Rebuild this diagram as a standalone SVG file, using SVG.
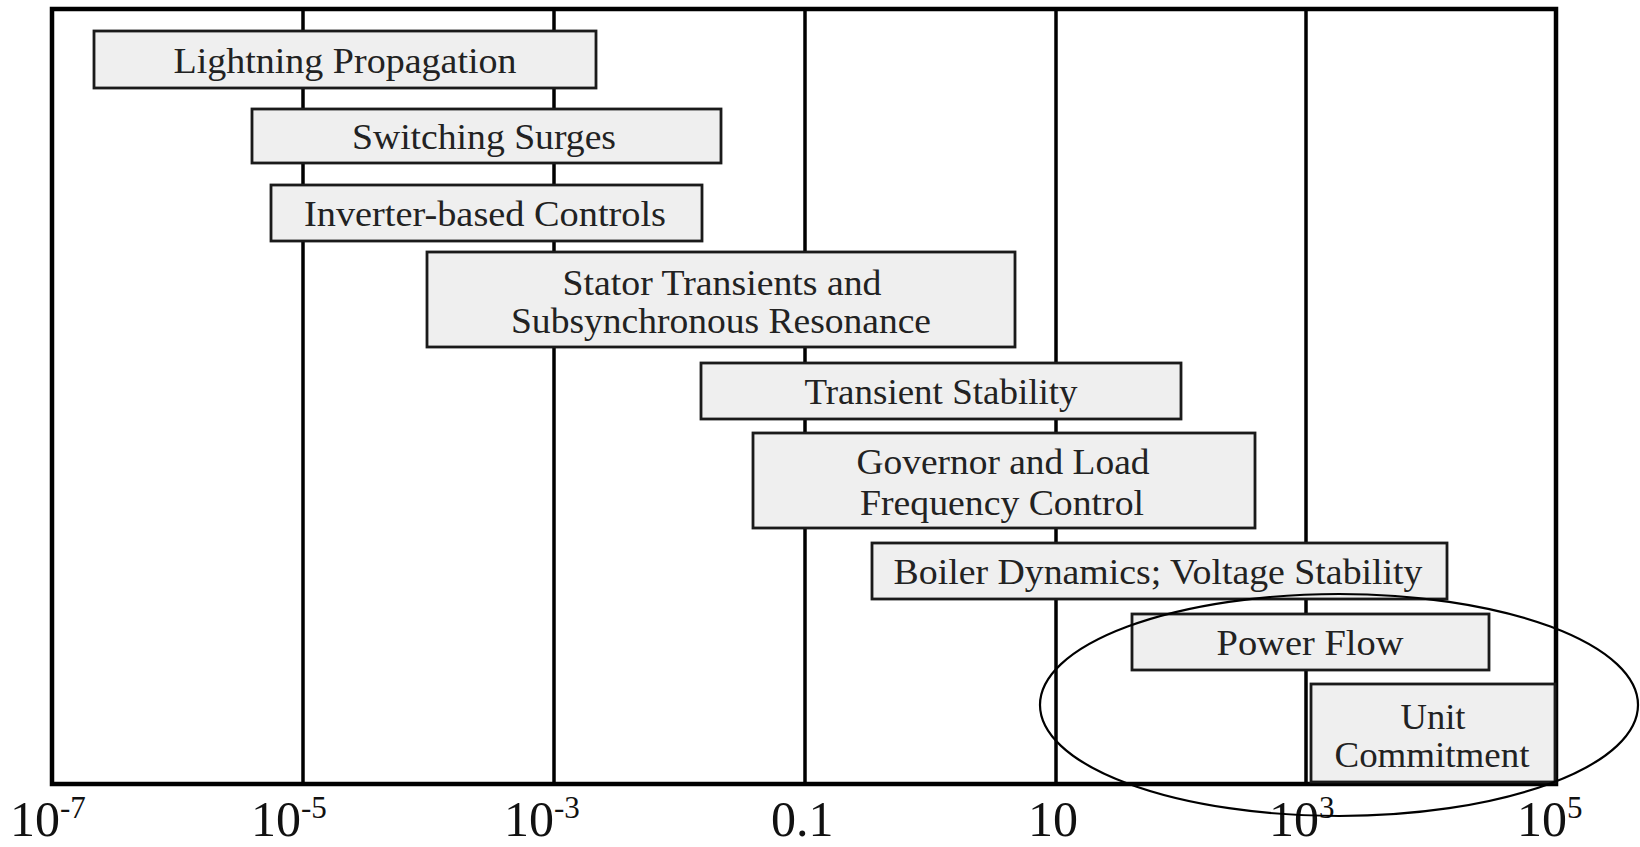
<svg xmlns="http://www.w3.org/2000/svg" width="1640" height="847" viewBox="0 0 1640 847">
<style>
.grid{stroke:#000;stroke-width:3.5;fill:none}
.frame{stroke:#000;stroke-width:4.5;fill:none}
.box{fill:#efefef;stroke:#1a1a1a;stroke-width:2.8}
.t{font-family:"Liberation Serif","Times New Roman",serif;font-size:35px;fill:#222;text-anchor:middle}
.ax{font-family:"Liberation Serif","Times New Roman",serif;font-size:50px;fill:#111}
.sup{font-size:31px}
</style>
<rect width="1640" height="847" fill="#fff"/>
<g id="connectors">
<line class="grid" x1="303" y1="9" x2="303" y2="784"/>
<line class="grid" x1="554" y1="9" x2="554" y2="784"/>
<line class="grid" x1="805" y1="9" x2="805" y2="784"/>
<line class="grid" x1="1056" y1="9" x2="1056" y2="784"/>
<line class="grid" x1="1306" y1="9" x2="1306" y2="784"/>
<rect class="frame" x="52" y="9" width="1504" height="775"/>
</g>
<g id="n-lightning"><rect class="box" x="94" y="31" width="502" height="57"/><text class="t" x="345" y="73" textLength="343" lengthAdjust="spacingAndGlyphs">Lightning Propagation</text></g>
<g id="n-switching"><rect class="box" x="252" y="109" width="469" height="54"/><text class="t" x="484" y="149" textLength="264" lengthAdjust="spacingAndGlyphs">Switching Surges</text></g>
<g id="n-inverter"><rect class="box" x="271" y="185" width="431" height="56"/><text class="t" x="485" y="226" textLength="362" lengthAdjust="spacingAndGlyphs">Inverter-based Controls</text></g>
<g id="n-stator"><rect class="box" x="427" y="252" width="588" height="95"/><text class="t" x="722" y="295" textLength="319" lengthAdjust="spacingAndGlyphs">Stator Transients and</text><text class="t" x="721" y="333" textLength="420" lengthAdjust="spacingAndGlyphs">Subsynchronous Resonance</text></g>
<g id="n-transient"><rect class="box" x="701" y="363" width="480" height="56"/><text class="t" x="941" y="404" textLength="273" lengthAdjust="spacingAndGlyphs">Transient Stability</text></g>
<g id="n-governor"><rect class="box" x="753" y="433" width="502" height="95"/><text class="t" x="1003" y="474" textLength="293" lengthAdjust="spacingAndGlyphs">Governor and Load</text><text class="t" x="1002" y="515" textLength="284" lengthAdjust="spacingAndGlyphs">Frequency Control</text></g>
<g id="n-boiler"><rect class="box" x="872" y="543" width="575" height="56"/><text class="t" x="1158" y="584" textLength="529" lengthAdjust="spacingAndGlyphs">Boiler Dynamics; Voltage Stability</text></g>
<g id="n-powerflow"><rect class="box" x="1132" y="614" width="357" height="56"/><text class="t" x="1310" y="655" textLength="187" lengthAdjust="spacingAndGlyphs">Power Flow</text></g>
<g id="n-unit"><rect class="box" x="1311" y="684" width="244" height="98" stroke-width="4"/><text class="t" x="1433" y="729" textLength="65" lengthAdjust="spacingAndGlyphs">Unit</text><text class="t" x="1432" y="767" textLength="195" lengthAdjust="spacingAndGlyphs">Commitment</text></g>
<g id="axis-labels">
<text class="ax" x="10" y="836">10<tspan class="sup" dy="-18">-7</tspan></text>
<text class="ax" x="251" y="836">10<tspan class="sup" dy="-18">-5</tspan></text>
<text class="ax" x="504" y="836">10<tspan class="sup" dy="-18">-3</tspan></text>
<text class="ax" x="771" y="836">0.1</text>
<text class="ax" x="1028" y="836">10</text>
<text class="ax" x="1269" y="836">10<tspan class="sup" dy="-18">3</tspan></text>
<text class="ax" x="1517" y="836">10<tspan class="sup" dy="-18">5</tspan></text>
</g>
<g id="n-highlight"><ellipse cx="1339" cy="705" rx="299" ry="111" fill="none" stroke="#000" stroke-width="2.2"/></g>
</svg>
